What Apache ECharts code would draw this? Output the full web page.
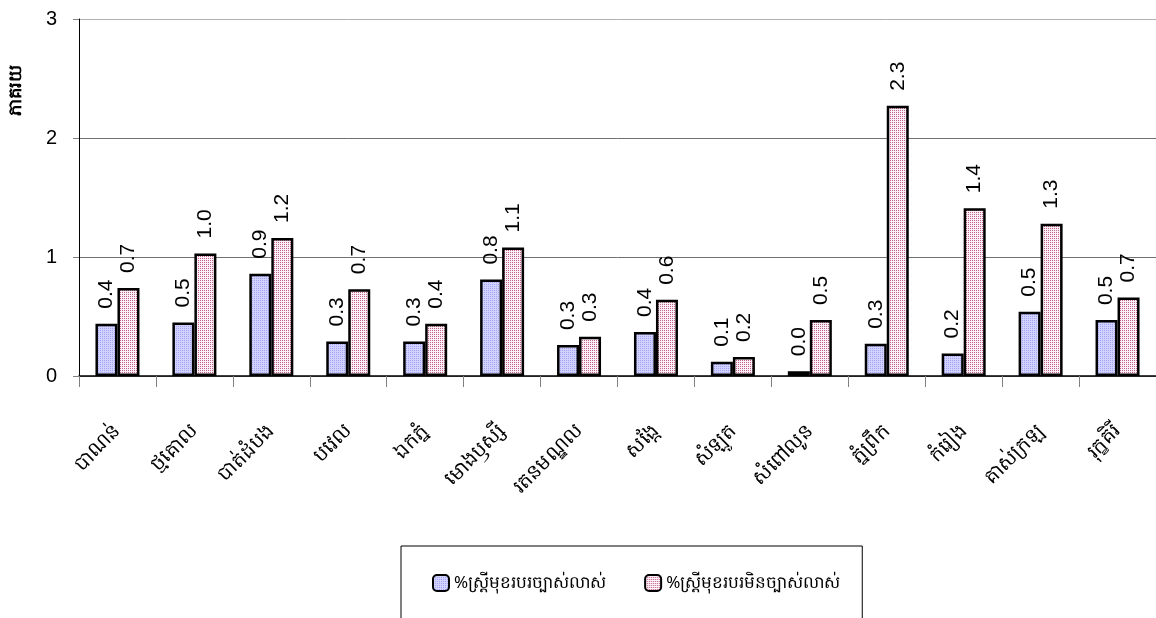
<!DOCTYPE html>
<html>
<head>
<meta charset="utf-8">
<title>ភាគរយ</title>
<script src="https://cdn.jsdelivr.net/npm/echarts@6/dist/echarts.min.js"></script>
<style>
  html, body { margin: 0; padding: 0; background: #ffffff; }
  #chart { width: 1156px; height: 618px; }
</style>
</head>
<body>
<div id="chart"></div>
<script>
// District names (x axis)
const districts = [
  'បាណន់', 'ថ្មគោល', 'បាត់ដំបង', 'បវេល', 'ឯកភ្នំ', 'មោងឫស្សី', 'រតនមណ្ឌល',
  'សង្កែ', 'សំឡូត', 'សំពៅលូន', 'ភ្នំព្រឹក', 'កំរៀង', 'គាស់ក្រឡ', 'រុក្ខគិរី'
];

// Series names
const seriesNames = ['%ស្ត្រីមុខរបរច្បាស់លាស់', '%ស្ត្រីមុខរបរមិនច្បាស់លាស់'];

// Percent of women with a clear occupation
const clearOccupation = [0.44, 0.45, 0.86, 0.29, 0.29, 0.81, 0.26, 0.37, 0.12, 0.04, 0.27, 0.19, 0.54, 0.47];

// Percent of women without a clear occupation
const unclearOccupation = [0.74, 1.03, 1.16, 0.73, 0.44, 1.08, 0.33, 0.64, 0.16, 0.47, 2.27, 1.41, 1.28, 0.66];

// Value axis ticks
const yTicks = [0, 1, 2, 3];

const NUM_FONT = '"Liberation Sans", Arial, "DejaVu Sans", sans-serif';
const KH_FONT = '"Noto Sans", "DejaVu Sans", "Liberation Sans", sans-serif';

// Dotted fills for the two series
function makePattern(bg, dot, size, dots) {
  const c = document.createElement('canvas');
  c.width = size; c.height = size;
  const ctx = c.getContext('2d');
  ctx.fillStyle = bg;
  ctx.fillRect(0, 0, size, size);
  ctx.fillStyle = dot;
  dots.forEach(function (p) { ctx.fillRect(p[0], p[1], 1, 1); });
  return { image: c, repeat: 'repeat' };
}
const bluePattern = makePattern('#d2d2ff', '#a4a4f2', 2, [[0, 0]]);
const pinkPattern = makePattern('#fdf0f5', '#c2628e', 2, [[0, 0]]);

const chart = echarts.init(document.getElementById('chart'), null, { renderer: 'canvas' });

function valueLabel() {
  return {
    show: true,
    position: 'top',
    rotate: 90,
    align: 'left',
    verticalAlign: 'middle',
    distance: 15,
    color: '#000',
    fontFamily: NUM_FONT,
    fontSize: 21,
    formatter: function (p) { return p.value.toFixed(1); }
  };
}

chart.setOption({
  animation: false,
  backgroundColor: '#ffffff',
  grid: { left: 79, right: 0, top: 19, bottom: 242, containLabel: false },
  xAxis: {
    type: 'category',
    data: districts,
    axisLine: { show: true, lineStyle: { color: '#000', width: 1.5 } },
    axisTick: { show: true, alignWithLabel: false, length: 11, lineStyle: { color: '#808080' } },
    axisLabel: {
      interval: 0,
      rotate: 45,
      margin: 52,
      color: '#000',
      fontFamily: KH_FONT,
      fontSize: 20
    }
  },
  yAxis: {
    type: 'value',
    min: yTicks[0],
    max: yTicks[yTicks.length - 1],
    interval: 1,
    axisLine: { show: true, lineStyle: { color: '#000', width: 1 } },
    axisTick: { show: true, length: 6, lineStyle: { color: '#808080' } },
    axisLabel: { margin: 22, color: '#000', fontFamily: NUM_FONT, fontSize: 20 },
    splitLine: {
      show: true,
      lineStyle: { color: ['#808080', '#707070', '#707070', '#b0b0b0'], width: 1 }
    }
  },
  legend: {
    left: 401,
    top: 546,
    orient: 'horizontal',
    padding: [28, 22, 40, 31],
    itemGap: 38,
    itemWidth: 16,
    itemHeight: 16,
    borderColor: '#000',
    borderWidth: 1,
    backgroundColor: '#fff',
    textStyle: { color: '#000', fontFamily: KH_FONT, fontSize: 17 },
    data: seriesNames
  },
  graphic: [{
    type: 'text',
    x: 16,
    y: 90,
    rotation: Math.PI / 2,
    style: {
      text: 'ភាគរយ',
      font: 'bold 18px ' + KH_FONT,
      fill: '#000',
      align: 'center',
      verticalAlign: 'middle'
    }
  }],
  series: [
    {
      name: seriesNames[0],
      type: 'bar',
      data: clearOccupation,
      barWidth: 22,
      barGap: '0%',
      itemStyle: { color: bluePattern, borderColor: '#000', borderWidth: 2.5 },
      label: valueLabel()
    },
    {
      name: seriesNames[1],
      type: 'bar',
      data: unclearOccupation,
      barWidth: 22,
      barGap: '0%',
      itemStyle: { color: pinkPattern, borderColor: '#000', borderWidth: 2.5 },
      label: valueLabel()
    }
  ]
});
</script>
</body>
</html>
